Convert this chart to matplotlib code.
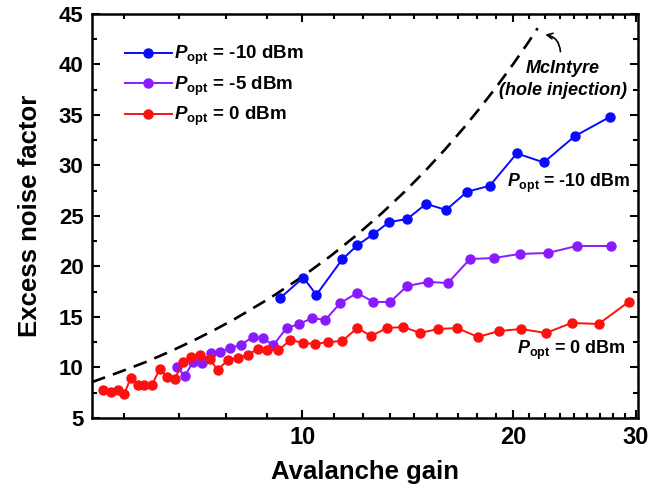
import numpy as np
import matplotlib
matplotlib.use('Agg')
import matplotlib.pyplot as plt
from matplotlib.ticker import FixedLocator, FixedFormatter, MultipleLocator, NullFormatter

# fonts: bold Arial-like look, P_opt with italic P
plt.rcParams['font.family'] = ['Liberation Sans', 'DejaVu Sans']
plt.rcParams['font.weight'] = 'bold'
plt.rcParams['mathtext.fontset'] = 'custom'
plt.rcParams['mathtext.rm'] = 'Liberation Sans:bold'
plt.rcParams['mathtext.it'] = 'Liberation Sans:italic:bold'
plt.rcParams['mathtext.bf'] = 'Liberation Sans:bold'
plt.rcParams['lines.scale_dashes'] = False

# Data
gain_m10 = [9.30, 10.03, 10.47, 11.40, 11.98, 12.63, 13.31, 14.12, 15.03, 16.05,
            17.20, 18.54, 20.26, 22.14, 24.52, 27.51]
enf_m10 = [16.9, 18.9, 17.2, 20.7, 22.1, 23.2, 24.4, 24.7, 26.2, 25.6,
           27.4, 28.0, 31.2, 30.3, 32.9, 34.8]

gain_m5 = [6.61, 6.79, 6.97, 7.18, 7.39, 7.61, 7.87, 8.16, 8.49, 8.77,
           9.09, 9.49, 9.90, 10.33, 10.78, 11.33, 11.98, 12.63, 13.35, 14.12,
           15.12, 16.15, 17.36, 18.79, 20.46, 22.44, 24.68, 27.60]
enf_m5 = [10.05, 9.16, 10.54, 10.45, 11.44, 11.53, 11.93, 12.23, 13.02, 12.92,
          12.23, 13.91, 14.31, 14.90, 14.70, 16.39, 17.38, 16.49, 16.49, 18.07,
          18.47, 18.37, 20.74, 20.84, 21.24, 21.34, 22.03, 22.03]

gain_0 = [5.18, 5.32, 5.45, 5.56, 5.68, 5.81, 5.93, 6.09, 6.25, 6.40,
          6.57, 6.74, 6.92, 7.13, 7.37, 7.56, 7.82, 8.08, 8.35, 8.63,
          8.91, 9.24, 9.61, 10.03, 10.43, 10.89, 11.40, 11.98, 12.54, 13.22,
          13.94, 14.74, 15.63, 16.64, 17.83, 19.10, 20.53, 22.29, 24.28, 26.53,
          29.28]
enf_0 = [7.77, 7.57, 7.77, 7.38, 8.96, 8.27, 8.27, 8.27, 9.85, 9.06,
         8.86, 10.54, 11.04, 11.24, 10.84, 9.75, 10.74, 10.94, 11.24, 11.83,
         11.73, 11.73, 12.72, 12.43, 12.33, 12.52, 12.62, 13.91, 13.12, 13.91,
         14.01, 13.42, 13.81, 13.91, 13.02, 13.61, 13.81, 13.42, 14.41, 14.31,
         16.49]

# McIntyre (hole injection) dashed curve
gain_mc = [5.0, 5.5, 6.0, 6.5, 7.0, 7.5, 8.0, 9.0, 10.0, 11.0, 12.0, 13.0, 14.0,
           15.0, 16.0, 17.0, 18.0, 19.0, 20.0, 21.0, 21.7]
enf_mc = [8.55, 9.6, 10.6, 11.65, 12.7, 13.75, 14.8, 16.9, 19.0, 21.1, 23.2, 25.3, 27.4,
          29.5, 31.6, 33.7, 35.8, 37.9, 40.0, 42.1, 43.6]

fig = plt.figure(figsize=(6.52, 4.91), dpi=100)
ax = fig.add_axes([0.1411, 0.1487, 0.8374, 0.8228])

ax.plot(gain_mc, enf_mc, color='black', lw=1.9, dashes=(10, 6))
ax.plot(gain_m10, enf_m10, '-o', color='#0a0aff', lw=1.4, ms=6.5,
        label=r'$P_{\rm opt}$ = -10 dBm')
ax.plot(gain_m5, enf_m5, '-o', color='#8a1aff', lw=1.4, ms=6.5,
        label=r'$P_{\rm opt}$ = -5 dBm')
ax.plot(gain_0, enf_0, '-o', color='#ff1010', lw=1.4, ms=6.5,
        label=r'$P_{\rm opt}$ = 0 dBm')

ax.set_xscale('log')
ax.set_xlim(5, 30.2)
ax.set_ylim(5, 45)

ax.xaxis.set_major_locator(FixedLocator([10, 20, 30]))
ax.xaxis.set_major_formatter(FixedFormatter(['10', '20', '30']))
minors = [10 + i * 10 / 9 for i in range(-4, 18) if i % 9 != 0]
ax.xaxis.set_minor_locator(FixedLocator(minors))
ax.xaxis.set_minor_formatter(NullFormatter())
ax.yaxis.set_major_locator(MultipleLocator(5))
ax.yaxis.set_minor_locator(MultipleLocator(2.5))

ax.tick_params(which='both', direction='in', top=True, right=True, width=1.5)
ax.tick_params(which='major', length=6)
ax.tick_params(which='minor', length=3.5)
ax.tick_params(axis='x', which='major', labelsize=17, pad=6)
ax.tick_params(axis='y', which='major', labelsize=16, pad=6)
for s in ax.spines.values():
    s.set_linewidth(1.8)

ax.set_xlabel('Avalanche gain', fontsize=18.5, fontweight='bold', labelpad=8)
ax.set_ylabel('Excess noise factor', fontsize=18.5, fontweight='bold', labelpad=12)

leg = ax.legend(loc='upper left', bbox_to_anchor=(0.06, 0.925), frameon=False,
                fontsize=13.5, handlelength=2.5, handletextpad=0.15,
                labelspacing=0.38, borderpad=0, borderaxespad=0)

ax.text(23.6, 39.65, 'McIntyre', fontsize=13, fontweight='bold', style='italic',
        ha='center', va='center')
ax.text(23.6, 37.45, '(hole injection)', fontsize=13, fontweight='bold',
        style='italic', ha='center', va='center')
ax.annotate('', xy=(22.05, 43.0), xytext=(23.4, 41.0),
            arrowprops=dict(arrowstyle='->', lw=1.2, color='black',
                            connectionstyle='arc3,rad=0.45'))

ax.text(19.6, 28.2, r'$P_{\rm opt}$ = -10 dBm', fontsize=12.8, ha='left', va='center')
ax.text(20.3, 11.7, r'$P_{\rm opt}$ = 0 dBm', fontsize=13, ha='left', va='center')

fig.savefig('out.png', dpi=100)
